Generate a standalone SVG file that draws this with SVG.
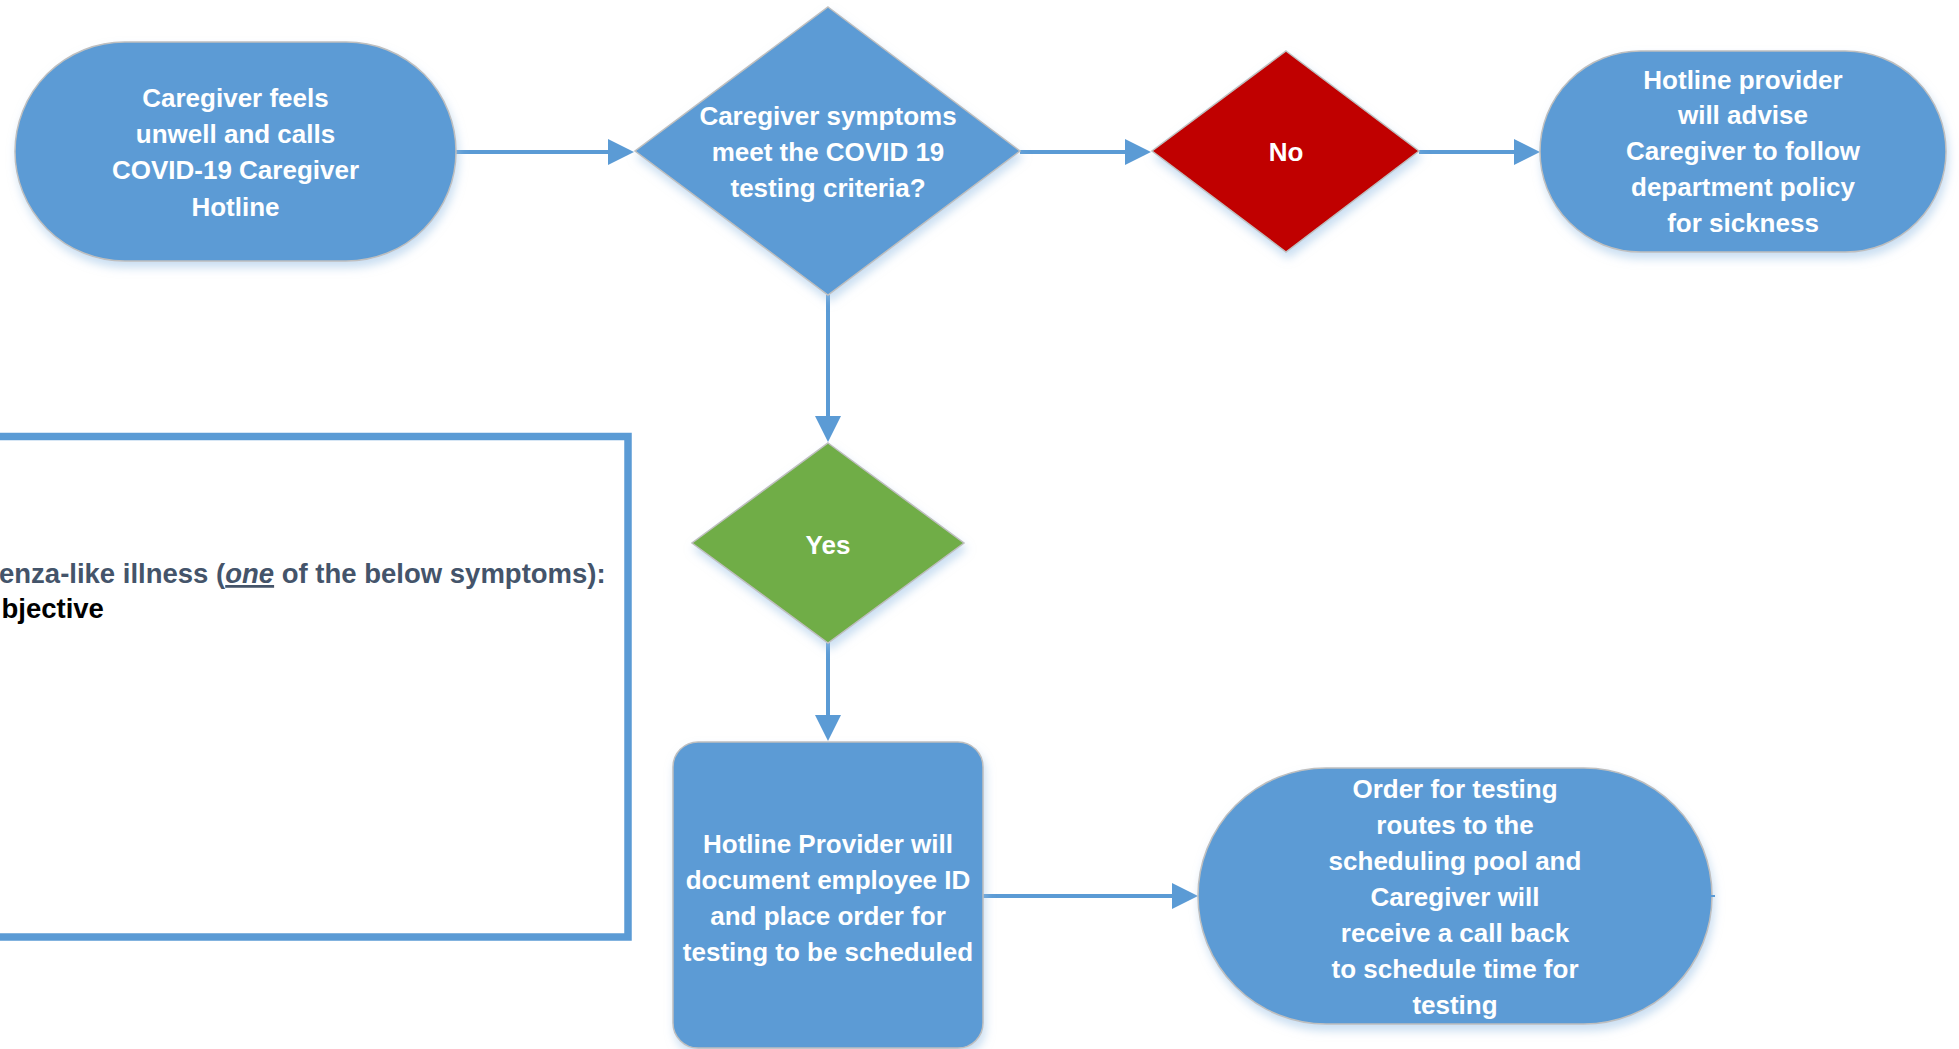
<svg xmlns="http://www.w3.org/2000/svg" width="1959" height="1049" viewBox="0 0 1959 1049">
  <style>
    .shape { stroke: #BFBFBF; stroke-width: 1.5; filter: url(#shadow); }
    .blue { fill: #5B9BD5; }
    .red { fill: #C00000; }
    .green { fill: #70AD47; }
    .lbl { font-family: "Liberation Sans", Arial, sans-serif; font-weight: bold; font-size: 26px; fill: #FFFFFF; text-anchor: middle; }
    .conn { stroke: #5B9BD5; stroke-width: 4; fill: none; marker-end: url(#arrow); }
    .note { font-family: "Liberation Sans", Arial, sans-serif; font-weight: bold; font-size: 27.5px; }
  </style>
  <defs>
    <filter id="shadow" x="-20%" y="-20%" width="140%" height="150%">
      <feDropShadow dx="2" dy="6" stdDeviation="5" flood-color="#9DC3E6" flood-opacity="0.55"/>
    </filter>
    <marker id="arrow" markerUnits="userSpaceOnUse" markerWidth="26" markerHeight="26" refX="2" refY="13" orient="auto">
      <path d="M0,0 L26,13 L0,26 Z" fill="#5B9BD5"/>
    </marker>
  </defs>
  <rect width="1959" height="1049" fill="#FFFFFF"/>

  <g id="connectors">
    <line class="conn" x1="456" y1="152" x2="610" y2="152"/>
    <line class="conn" x1="1020" y1="152" x2="1127" y2="152"/>
    <line class="conn" x1="1419" y1="152" x2="1516" y2="152"/>
    <line class="conn" x1="828" y1="295" x2="828" y2="418"/>
    <line class="conn" x1="828" y1="643" x2="828" y2="717"/>
    <line class="conn" x1="983" y1="896" x2="1174" y2="896"/>
  </g>

  <g id="node-start">
    <rect class="shape blue" x="15" y="42" width="441" height="219" rx="109.5" ry="109.5"/>
    <text class="lbl" x="235.5" y="107">Caregiver feels</text>
    <text class="lbl" x="235.5" y="143">unwell and calls</text>
    <text class="lbl" x="235.5" y="179">COVID-19 Caregiver</text>
    <text class="lbl" x="235.5" y="216">Hotline</text>
  </g>

  <g id="node-criteria">
    <polygon class="shape blue" points="828,7 1020,151 828,295 635,151"/>
    <text class="lbl" x="828" y="125">Caregiver symptoms</text>
    <text class="lbl" x="828" y="161">meet the COVID 19</text>
    <text class="lbl" x="828" y="197">testing criteria?</text>
  </g>

  <g id="node-no">
    <polygon class="shape red" points="1286,51 1419,151 1286,252 1152,151"/>
    <text class="lbl" x="1286" y="161">No</text>
  </g>

  <g id="node-advise">
    <rect class="shape blue" x="1540" y="51" width="406" height="201" rx="100.5" ry="100.5"/>
    <text class="lbl" x="1743" y="89">Hotline provider</text>
    <text class="lbl" x="1743" y="124">will advise</text>
    <text class="lbl" x="1743" y="160">Caregiver to follow</text>
    <text class="lbl" x="1743" y="196">department policy</text>
    <text class="lbl" x="1743" y="232">for sickness</text>
  </g>

  <g id="node-yes">
    <polygon class="shape green" points="828,443 964,543 828,643 692,543"/>
    <text class="lbl" x="828" y="554">Yes</text>
  </g>

  <g id="node-document">
    <rect class="shape blue" x="673" y="742" width="310" height="306" rx="25" ry="25"/>
    <text class="lbl" x="828" y="853">Hotline Provider will</text>
    <text class="lbl" x="828" y="889">document employee ID</text>
    <text class="lbl" x="828" y="925">and place order for</text>
    <text class="lbl" x="828" y="961">testing to be scheduled</text>
  </g>

  <g id="node-order">
    <rect class="shape blue" x="1198" y="768" width="514" height="256" rx="128" ry="128"/>
    <line x1="1711" y1="896" x2="1715" y2="896" stroke="#5B9BD5" stroke-width="2"/>
    <text class="lbl" x="1455" y="798">Order for testing</text>
    <text class="lbl" x="1455" y="834">routes to the</text>
    <text class="lbl" x="1455" y="870">scheduling pool and</text>
    <text class="lbl" x="1455" y="906">Caregiver will</text>
    <text class="lbl" x="1455" y="942">receive a call back</text>
    <text class="lbl" x="1455" y="978">to schedule time for</text>
    <text class="lbl" x="1455" y="1014">testing</text>
  </g>

  <g id="criteria-box">
    <rect x="-20" y="436.5" width="648" height="500.5" fill="#FFFFFF" stroke="#5B9BD5" stroke-width="7.5"/>
    <text class="note" x="-1" y="583" fill="#44546A">enza-like illness (<tspan font-style="italic" text-decoration="underline">one</tspan> of the below symptoms):</text>
    <text class="note" x="1.5" y="618" fill="#000000">bjective</text>
  </g>
</svg>
